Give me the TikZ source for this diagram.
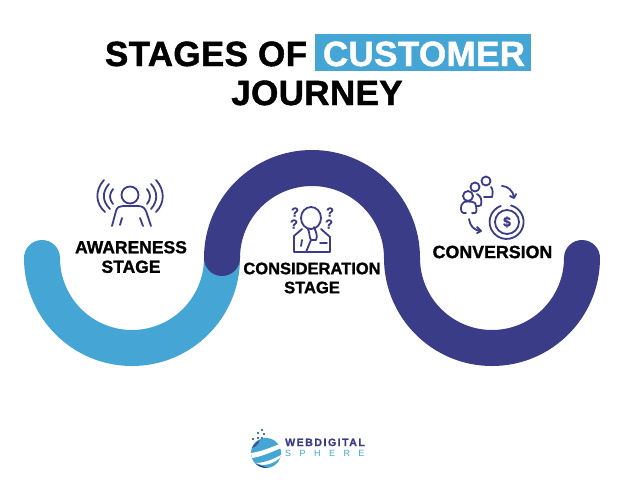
\documentclass[tikz,border=0pt]{standalone}
\usepackage{fontspec}
\setmainfont{Liberation Sans}
\newfontfamily\ttl[FakeBold=1.3,LetterSpace=1]{Liberation Sans Bold}
\newfontfamily\labf[FakeBold=1.2]{Liberation Sans Bold}
\newfontfamily\logof[FakeBold=0.8,LetterSpace=14]{Liberation Sans Bold}
\newfontfamily\logog[LetterSpace=94]{Liberation Sans}
\definecolor{lightb}{HTML}{45A5D4}
\definecolor{darkb}{HTML}{3A3C87}
\tikzset{
  band/.style={line width=36pt},
  lab/.style={font=\labf\fontsize{16.5}{19}\selectfont,align=center,text=black,inner sep=0pt},
  ttext/.style={font=\ttl\fontsize{35}{40}\selectfont,inner sep=0pt,anchor=base},
  ico/.style={draw=darkb,line width=1.8pt,line cap=round,line join=round},
  qm/.style={font=\labf\fontsize{13}{13}\selectfont,text=darkb,inner sep=0pt},
  logotxt/.style={inner sep=0pt,anchor=base west}
}
\begin{document}
\begin{tikzpicture}[x=1pt,y=-1pt]
\useasboundingbox (0,0) rectangle (624,488);
\fill[white] (0,0) rectangle (624,488);
% bands
\draw[band,lightb,line cap=round] (42,258) arc[start angle=180,end angle=360,radius=90pt];
\draw[band,darkb,line cap=round] (222,258) arc[start angle=180,end angle=0,radius=90pt]
   arc[start angle=180,end angle=360,radius=90pt];
% title
\fill[lightb] (315,34) rectangle (531,71);
\node[ttext] (t1) at (206,66) {STAGES OF};
\node[ttext,text=white] (t2) at (424,66) {CUSTOMER};
\node[ttext] (t3) at (317,105) {JOURNEY};
% labels
\node[lab,font=\labf\fontsize{17.5}{19.5}\selectfont] (aw) at (131,257) {AWARENESS\\STAGE};
\node[lab] (co) at (312,278) {CONSIDERATION\\STAGE};
\node[lab,font=\labf\fontsize{17.8}{20}\selectfont] (cv) at (492.5,252) {CONVERSION};
% awareness icon
\draw[ico] (130,195) circle[radius=8.5pt];
\draw[ico] (112,226) -- (116,211) .. controls (117,207) and (120,206) .. (123,206) -- (137,206) .. controls (142,206) and (144,207) .. (146,211) -- (151,226);
\draw[ico] (122,218) -- (120,225) (140,218) -- (143,226);
\draw[ico] (104,180) .. controls (95,190) and (95,203) .. (105,212);
\draw[ico] (109,184) .. controls (102,192) and (102,201) .. (110,209);
\draw[ico] (113,189) .. controls (109,194) and (109,199) .. (113,204);
\draw[ico] (147,189) .. controls (151,194) and (151,199) .. (147,204);
\draw[ico] (151,184) .. controls (158,192) and (158,201) .. (151,209);
\draw[ico] (156,180) .. controls (165,190) and (165,203) .. (156,212);
% consideration icon
\draw[ico] (311,218) ellipse[x radius=10pt,y radius=11pt];
\draw[ico] (302,229) -- (294,236) -- (294,252) -- (330,252) -- (330,237) -- (321,229);
\draw[ico] (308,229) .. controls (310,233) and (309,237) .. (311,240) -- (316,240) .. controls (318,236) and (316,232) .. (314,227);
\draw[ico] (311,240) -- (306,252) (302,240) -- (301,246);
\draw[ico] (320,243) -- (327,243);
\node[qm] (q1) at (295,212) {?};
\node[qm] (q2) at (294,224) {?};
\node[qm] (q3) at (330,212) {?};
\node[qm] (q4) at (329,224) {?};
% conversion icon
\draw[ico] (486,181) circle[radius=4.5pt];
\draw[ico] (475,187) circle[radius=4.5pt];
\draw[ico] (468,196) circle[radius=5pt];
\draw[ico] (463,203) .. controls (460,205) and (461,212) .. (462,212) .. controls (462,213) and (464,213) .. (466,213) (472,213) -- (475,213) .. controls (477,213) and (477,208) .. (475,203) .. controls (473,201) and (463,201) .. (463,203);
\draw[ico] (477,194) .. controls (481,196) and (482,200) .. (481,205) .. controls (481,206) and (478,206) .. (476,206);
\draw[ico] (491,187) .. controls (493,189) and (493,194) .. (492,197) -- (484,197);
\draw[ico] (502,186) .. controls (508,186) and (513,191) .. (514,197);
\draw[ico] (510,196) -- (514,198) -- (516,194);
\draw[ico] (469,219) .. controls (470,226) and (474,230) .. (480,231);
\draw[ico] (477,227) -- (481,231) -- (477,233);
\draw[ico] (507,222) circle[radius=12pt];
\draw[ico] (511,205.5) arc[start angle=75,end angle=-250,radius=17pt];
\node[font=\labf\fontsize{14}{14}\selectfont,text=darkb,inner sep=0pt] (dl) at (507,222) {\$};
% logo
\fill[lightb] (266,453) circle[radius=15pt];
\fill[darkb] (256,464) .. controls (259,467) and (263,468) .. (268,468) .. controls (263,466) and (259,465) .. (256,464) -- cycle;
\fill[darkb!80!lightb] (252,448) .. controls (254,444) and (256,442) .. (260,440) .. controls (258,444) and (256,447) .. (252,448) -- cycle;
\fill[white] (251,453) .. controls (260,452) and (272,447) .. (280,444) -- (281,448) .. controls (272,452) and (260,457) .. (252,458) -- cycle;
\fill[white] (256,463) .. controls (264,463) and (274,459) .. (281,455) -- (280,458) .. controls (274,463) and (268,465) .. (262,465) -- cycle;
\foreach \p in {(258,433),(262,430),(264,434),(258,438),(253,439),(262,438)}
  \fill[lightb!60!darkb] \p ++(-1,-1) rectangle ++(2,2);
\node[logotxt,text=darkb] (l1) at (285,446) {\logof\fontsize{10.6}{11}\selectfont WEBDIGITAL};
\node[logotxt,text=lightb] (l2) at (285,456) {\logog\fontsize{9}{9}\selectfont SPHERE};
\end{tikzpicture}
\end{document}
